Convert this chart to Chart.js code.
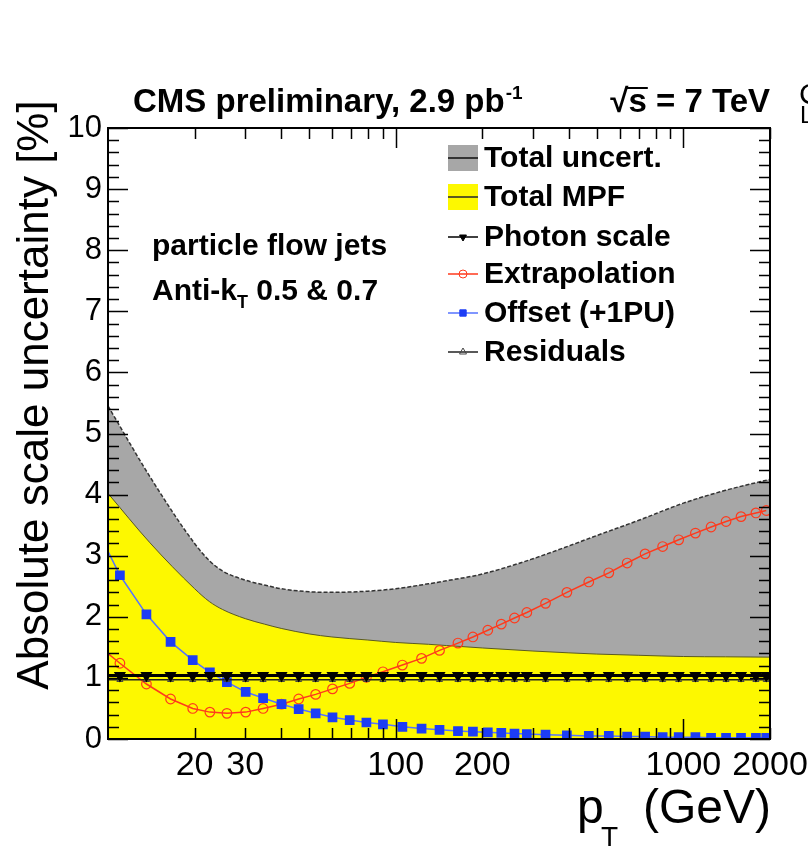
<!DOCTYPE html>
<html>
<head>
<meta charset="utf-8">
<script src="https://cdn.jsdelivr.net/npm/chart.js@4.4.1/dist/chart.umd.min.js"></script>
<style>
  html, body { margin: 0; padding: 0; background: #fff; }
  #wrap { width: 808px; height: 847px; }
</style>
</head>
<body>
<div id="wrap"><canvas id="unc-chart" width="808" height="847"></canvas></div>
<script>
// pT of the plotted points (GeV)
const ptPoints = [11, 13.6, 16.5, 19.7, 22.6, 25.9, 30.1, 34.6, 40.1, 46, 52.7, 60.3, 69.2, 79.1, 90.3, 105.5, 123, 142,
  164.6, 185.5, 209, 232.8, 258.8, 285.6, 331.8, 393.6, 469, 550.5, 637.6, 736, 847, 963, 1101, 1248, 1407, 1586, 1787, 1941];

const offsetPU = [2.68, 2.04, 1.59, 1.29, 1.09, 0.93, 0.77, 0.67, 0.57, 0.49, 0.42, 0.355, 0.31, 0.27, 0.24, 0.20, 0.17, 0.15,
  0.13, 0.12, 0.11, 0.10, 0.09, 0.08, 0.07, 0.06, 0.05, 0.05, 0.04, 0.04, 0.03, 0.03, 0.03, 0.02, 0.02, 0.02, 0.02, 0.02];
const extrapolation = [1.24, 0.90, 0.655, 0.50, 0.44, 0.42, 0.44, 0.50, 0.57, 0.655, 0.73, 0.82, 0.91, 1.01, 1.10, 1.21, 1.32, 1.45,
  1.57, 1.67, 1.78, 1.88, 1.98, 2.07, 2.22, 2.40, 2.57, 2.72, 2.88, 3.03, 3.15, 3.26, 3.37, 3.47, 3.56, 3.64, 3.70, 3.74];
const photonScale = [1.04, 1.04, 1.04, 1.04, 1.04, 1.04, 1.04, 1.04, 1.04, 1.04, 1.04, 1.04, 1.04, 1.04, 1.04, 1.04, 1.04, 1.04,
  1.04, 1.04, 1.04, 1.04, 1.04, 1.04, 1.04, 1.04, 1.04, 1.04, 1.04, 1.04, 1.04, 1.04, 1.04, 1.04, 1.04, 1.04, 1.04, 1.04];
const residuals = [0.97, 0.97, 0.97, 0.97, 0.97, 0.97, 0.97, 0.97, 0.97, 0.97, 0.97, 0.97, 0.97, 0.97, 0.97, 0.97, 0.97, 0.97,
  0.97, 0.97, 0.97, 0.97, 0.97, 0.97, 0.97, 0.97, 0.97, 0.97, 0.97, 0.97, 0.97, 0.97, 0.97, 0.97, 0.97, 0.97, 0.97, 0.97];
// curve values at the left edge (pT = 10)
const offsetAt10 = 3.07;
const extrapAt10 = 1.40;

// uncertainty bands
const bandPt = [10, 14, 20, 22.5, 25, 30, 35, 40, 50, 60, 80, 100, 130, 150, 200, 300, 400, 500, 700, 1000, 1400, 2000];
const totalUncert = [5.45, 4.29, 3.20, 2.92, 2.75, 2.60, 2.52, 2.46, 2.41, 2.40, 2.42, 2.46, 2.54, 2.59, 2.70, 2.95, 3.16, 3.33, 3.58, 3.86, 4.07, 4.25];
const totalMPF = [4.02, 3.21, 2.46, 2.25, 2.12, 1.97, 1.88, 1.81, 1.72, 1.67, 1.62, 1.58, 1.55, 1.53, 1.49, 1.44, 1.41, 1.39, 1.37, 1.35, 1.345, 1.34];

const xTickLabels = [20, 30, 100, 200, 1000, 2000];
const xMinorTicks = [20, 30, 40, 50, 60, 70, 80, 90, 200, 300, 400, 500, 600, 700, 800, 900, 2000];
const xMajorTicks = [100, 1000];

const FONT = '"Liberation Sans", Arial, Helvetica, sans-serif';
const canvas = document.getElementById("unc-chart");

const pts = (ys, head, tail) => {
  const d = ptPoints.map((x, i) => ({ x: x, y: ys[i] }));
  if (head !== undefined) d.unshift({ x: 10, y: head });
  if (tail !== undefined) d.push({ x: 2000, y: tail });
  return d;
};
const noEdge = (r) => (c) => (c.raw && (c.raw.x === 10 || c.raw.x === 2000) ? 0 : r);

const frameTicks = {
  id: "frameTicks",
  afterDatasetsDraw(chart) {
    const { ctx, chartArea: a, scales: { x, y } } = chart;
    ctx.save();
    ctx.strokeStyle = "#000";
    ctx.lineWidth = 1.5;
    ctx.beginPath();
    for (let i = 0; i <= 50; i++) {
      const py = Math.round(y.getPixelForValue(i / 5)) + 0.5;
      const len = i % 5 === 0 ? 20 : 11;
      ctx.moveTo(a.left, py); ctx.lineTo(a.left + len, py);
      ctx.moveTo(a.right, py); ctx.lineTo(a.right - len, py);
    }
    const xt = (v, len) => {
      const px = Math.round(x.getPixelForValue(v)) + 0.5;
      ctx.moveTo(px, a.bottom); ctx.lineTo(px, a.bottom - len);
      ctx.moveTo(px, a.top); ctx.lineTo(px, a.top + len);
    };
    xMinorTicks.forEach((v) => xt(v, 11));
    xMajorTicks.forEach((v) => xt(v, 20));
    ctx.stroke();
    ctx.lineWidth = 2;
    ctx.strokeRect(a.left, a.top, a.right - a.left, a.bottom - a.top);
    ctx.restore();
  },
};

const texts = {
  id: "texts",
  afterDraw(chart) {
    const { ctx, chartArea: a } = chart;
    ctx.save();
    ctx.fillStyle = "#000";
    ctx.textBaseline = "alphabetic";
    ctx.textAlign = "left";

    // header
    ctx.font = "bold 33px " + FONT;
    const t1 = "CMS preliminary, 2.9 pb";
    ctx.fillText(t1, 133, 112);
    const w1 = ctx.measureText(t1).width;
    ctx.font = "bold 19px " + FONT;
    ctx.fillText("-1", 133 + w1 + 1, 99);

    ctx.font = "bold 33px " + FONT;
    const wr = ctx.measureText("\u221A").width;
    const ws = ctx.measureText("s").width;
    const wrest = ctx.measureText(" = 7 TeV").width;
    const x0 = a.right - (wr + ws + wrest);
    ctx.fillText("\u221A", x0, 112);
    ctx.fillText("s", x0 + wr, 112);
    ctx.fillText(" = 7 TeV", x0 + wr + ws, 112);
    ctx.lineWidth = 2;
    ctx.beginPath();
    ctx.moveTo(x0 + wr - 2, 88);
    ctx.lineTo(x0 + wr + ws + 1, 88);
    ctx.stroke();

    // labels inside the frame
    ctx.font = "bold 30px " + FONT;
    ctx.fillText("particle flow jets", 152, 255);
    const wa = ctx.measureText("Anti-k").width;
    ctx.fillText("Anti-k", 152, 300);
    ctx.font = "bold 18px " + FONT;
    ctx.fillText("T", 152 + wa, 308);
    const wt = ctx.measureText("T").width;
    ctx.font = "bold 30px " + FONT;
    ctx.fillText(" 0.5 & 0.7", 152 + wa + wt, 300);

    // legend
    const lx = 448, lw = 30, tx = 484;
    const rows = [158, 197, 237, 274, 313, 352];
    const ds = chart.data.datasets;
    ctx.font = "bold 30px " + FONT;
    ctx.textBaseline = "middle";
    const boxRow = (dsIdx, yc) => {
      ctx.fillStyle = ds[dsIdx].backgroundColor;
      ctx.fillRect(lx, yc - 13, lw, 26);
      ctx.strokeStyle = ds[dsIdx].borderColor;
      ctx.lineWidth = 2;
      ctx.beginPath(); ctx.moveTo(lx, yc); ctx.lineTo(lx + lw, yc); ctx.stroke();
    };
    const lineRow = (dsIdx, yc) => {
      const d = ds[dsIdx];
      ctx.strokeStyle = d.borderColor;
      ctx.lineWidth = 1.5;
      ctx.beginPath(); ctx.moveTo(lx, yc); ctx.lineTo(lx + lw, yc); ctx.stroke();
      ctx.fillStyle = d.pointBackgroundColor;
      ctx.strokeStyle = d.pointBorderColor;
      ctx.lineWidth = 1;
      Chart.helpers.drawPoint(ctx, {
        pointStyle: d.pointStyle, rotation: d.pointRotation || 0,
        radius: d.legendRadius, borderWidth: 1,
      }, lx + lw / 2, yc);
    };
    boxRow(5, rows[0]);
    boxRow(4, rows[1]);
    lineRow(0, rows[2]);
    lineRow(3, rows[3]);
    lineRow(2, rows[4]);
    lineRow(1, rows[5]);
    ctx.fillStyle = "#000";
    ["Total uncert.", "Total MPF", "Photon scale", "Extrapolation", "Offset (+1PU)", "Residuals"]
      .forEach((s, i) => ctx.fillText(s, tx, rows[i] + 1));

    // axis titles
    ctx.textBaseline = "alphabetic";
    ctx.font = "44px " + FONT;
    ctx.save();
    ctx.translate(48, 395);
    ctx.rotate(-Math.PI / 2);
    ctx.textAlign = "center";
    ctx.fillText("Absolute scale uncertainty [%]", 0, 0);
    ctx.restore();

    ctx.font = "48px " + FONT;
    const wxt = ctx.measureText("(GeV)").width;
    ctx.fillText("(GeV)", 771 - wxt, 823);
    ctx.fillText("p", 577, 823);
    ctx.font = "28px " + FONT;
    ctx.fillText("T", 601, 846);

    // clipped neighbour text at the right edge
    ctx.font = "30px " + FONT;
    ctx.fillText("C", 799, 104);
    ctx.font = "24px " + FONT;
    ctx.fillText("L", 800, 123);
    ctx.restore();
  },
};

new Chart(canvas, {
  type: "line",
  data: {
    datasets: [
      {
        label: "Photon scale",
        data: pts(photonScale, 1.04, 1.04),
        borderColor: "#000",
        borderWidth: 3,
        pointStyle: "triangle",
        pointRotation: 180,
        pointRadius: noEdge(4),
        legendRadius: 4,
        pointBackgroundColor: "#000",
        pointBorderColor: "#000",
        tension: 0,
      },
      {
        label: "Residuals",
        data: pts(residuals, 0.97, 0.97),
        borderColor: "#222",
        borderWidth: 1.5,
        pointStyle: "triangle",
        pointRadius: noEdge(3.5),
        legendRadius: 4,
        pointBackgroundColor: "rgba(0,0,0,0)",
        pointBorderColor: "#444",
        pointBorderWidth: 1,
        tension: 0,
      },
      {
        label: "Offset (+1PU)",
        data: pts(offsetPU, offsetAt10),
        borderColor: "#5673ff",
        borderWidth: 1.5,
        pointStyle: "rect",
        pointRadius: noEdge(5.8),
        legendRadius: 4.5,
        pointBackgroundColor: "#1d3df5",
        pointBorderColor: "#1d3df5",
        tension: 0,
      },
      {
        label: "Extrapolation",
        data: pts(extrapolation, extrapAt10),
        borderColor: "#ff3a1c",
        borderWidth: 1.5,
        pointStyle: "circle",
        pointRadius: noEdge(4.8),
        legendRadius: 4,
        pointBackgroundColor: "rgba(0,0,0,0)",
        pointBorderColor: "#ff3a1c",
        pointBorderWidth: 1.2,
        tension: 0,
      },
      {
        label: "Total MPF",
        data: bandPt.map((x, i) => ({ x: x, y: totalMPF[i] })),
        borderColor: "#5a5a20",
        borderWidth: 1,
        backgroundColor: "#fdf800",
        fill: "origin",
        pointRadius: 0,
        cubicInterpolationMode: "monotone",
      },
      {
        label: "Total uncert.",
        data: bandPt.map((x, i) => ({ x: x, y: totalUncert[i] })),
        borderColor: "#333",
        borderWidth: 1.5,
        borderDash: [4, 2],
        backgroundColor: "#a7a7a7",
        fill: "origin",
        pointRadius: 0,
        cubicInterpolationMode: "monotone",
      },
    ],
  },
  options: {
    responsive: false,
    animation: false,
    devicePixelRatio: 1,
    clip: 0,
    layout: { padding: { top: 128, right: 38, left: 0, bottom: 48 } },
    plugins: { legend: { display: false }, tooltip: { enabled: false } },
    scales: {
      x: {
        type: "logarithmic",
        min: 10,
        max: 2000,
        afterBuildTicks: (s) => { s.ticks = xTickLabels.map((v) => ({ value: v })); },
        afterFit: (s) => { s.height = 60; s.paddingLeft = 0; s.paddingRight = 0; },
        grid: { display: false, drawTicks: false },
        border: { display: false },
        ticks: {
          autoSkip: false,
          maxRotation: 0,
          padding: 6,
          color: "#000",
          font: { family: FONT, size: 34 },
          callback: (v) => String(v),
        },
      },
      y: {
        min: 0,
        max: 10,
        afterFit: (s) => { s.width = 108; s.paddingTop = 0; s.paddingBottom = 0; },
        grid: { display: false, drawTicks: false },
        border: { display: false },
        ticks: {
          stepSize: 1,
          padding: 6,
          color: "#000",
          font: { family: FONT, size: 31 },
        },
      },
    },
  },
  plugins: [frameTicks, texts],
});
</script>
</body>
</html>
